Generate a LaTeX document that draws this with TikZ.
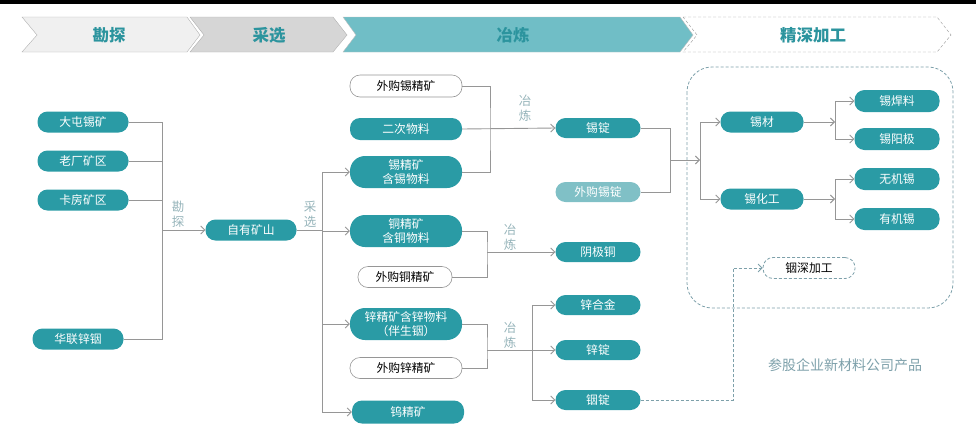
\documentclass[tikz,border=0pt]{standalone}
\usepackage{fontspec}
\setmainfont{Noto Sans CJK SC}
\usepackage{xcolor}
\usetikzlibrary{arrows.meta}
\definecolor{nodeteal}{RGB}{42,155,165}
\definecolor{paleteal}{RGB}{128,192,198}
\definecolor{bandteal}{RGB}{112,190,198}
\definecolor{titleteal}{RGB}{44,148,158}
\definecolor{labelgray}{RGB}{150,180,186}
\definecolor{linegray}{RGB}{150,150,150}
\definecolor{boxgray}{RGB}{125,160,170}

\begin{document}
\begin{tikzpicture}[x=1pt,y=-1pt,
  pill/.style={rectangle, rounded corners=10pt, fill=nodeteal, text=white,
    minimum width=91pt, minimum height=21pt, inner sep=0pt,
    font=\fontsize{11.8}{14.5}\selectfont, align=center},
  tallpill/.style={pill, rounded corners=15pt, minimum width=112pt, minimum height=32pt},
  widepill/.style={pill, minimum width=112pt, minimum height=22pt},
  openpill/.style={pill, fill=white, text=black, draw=linegray, line width=0.6pt},
  conn/.style={draw=linegray, line width=0.9pt},
  arr/.style={conn, -{Straight Barb[length=4pt,width=8pt]}},
  dotarr/.style={draw=boxgray, line width=0.8pt, densely dashed, -{Straight Barb[length=4pt,width=8pt]}},
  steplabel/.style={text=labelgray, font=\fontsize{12.5}{15}\selectfont, align=center},
  bandtext/.style={font=\fontsize{16.5}{18}\selectfont\bfseries, text=titleteal}]
\useasboundingbox (0,0) rectangle (976,432);
\fill[black] (0,0) rectangle (976,3.5);

% stage bands
\draw[draw=gray!60, fill=black!6] (22,17) -- (187,17) -- (200,35) -- (187,52) -- (22,52) -- (37,35) -- cycle;
\draw[draw=gray!60, fill=black!16] (190,17) -- (333,17) -- (347,35) -- (333,52) -- (190,52) -- (204,35) -- cycle;
\draw[draw=gray!50, fill=bandteal] (343,17) -- (680,17) -- (693,35) -- (680,52) -- (343,52) -- (356,35) -- cycle;
\draw[draw=gray!80, densely dashed, fill=white] (683,17) -- (937,17) -- (951,35) -- (937,52) -- (683,52) -- (697,35) -- cycle;
\node[bandtext] (kantan) at (109,35) {勘探};
\node[bandtext] (caixuan) at (269,35) {采选};
\node[bandtext] (yelian) at (513,35) {冶炼};
\node[bandtext] (jingshen) at (813,35) {精深加工};

% mines
\node[pill] (datun) at (83,122) {大屯锡矿};
\node[pill] (laochang) at (83,161) {老厂矿区};
\node[pill] (kafang) at (83,200) {卡房矿区};
\node[pill] (hualian) at (78,339) {华联锌铟};
\node[pill] (ziyou) at (251,230) {自有矿山};
\coordinate (kt) at (162,230);
\draw[conn] (datun.east) -| (kt);
\draw[conn] (hualian.east) -| (kt);
\draw[conn] (laochang.east) -- (laochang.east -| kt);
\draw[conn] (kafang.east) -- (kafang.east -| kt);
\draw[arr] (kt) -- (ziyou.west);
\node[steplabel] (lbkt) at (178,214) {勘\\探};

% concentrates
\node[openpill, minimum width=112pt, minimum height=22pt] (wgxjk) at (406,86) {外购锡精矿};
\node[widepill] (erci) at (406,129) {二次物料};
\node[tallpill] (xijk) at (406,172) {锡精矿\\含锡物料};
\node[tallpill] (tongjk) at (406,231) {铜精矿\\含铜物料};
\node[openpill, minimum width=94pt] (wgtjk) at (405,277) {外购铜精矿};
\node[tallpill] (xinjk) at (406,324) {锌精矿含锌物料\\（伴生铟）};
\node[openpill, minimum width=112pt] (wgzjk) at (406,368) {外购锌精矿};
\node[widepill, minimum height=23pt] (wujk) at (408,412) {钨精矿};
\coordinate (cx) at (322,230);
\draw[conn] (ziyou.east) -- (cx);
\draw[arr] (cx) |- (xijk.west);
\draw[arr] (cx) |- (tongjk.west);
\draw[arr] (cx) |- (xinjk.west);
\draw[arr] (cx) |- (wujk.west);
\node[steplabel] (lbcx) at (310,214) {采\\选};

% smelting
\node[pill, minimum width=85pt, minimum height=20pt] (xiding) at (598,128) {锡锭};
\node[pill, fill=paleteal, minimum width=85pt, minimum height=20pt] (wgxd) at (598,192) {外购锡锭};
\node[pill, minimum width=85pt, minimum height=20pt] (yjtong) at (598,252) {阴极铜};
\node[pill, minimum width=85pt, minimum height=20pt] (xhj) at (598,305) {锌合金};
\node[pill, minimum width=85pt, minimum height=20pt] (xinding) at (598,350) {锌锭};
\node[pill, minimum width=85pt, minimum height=20pt] (yinding) at (598,400) {铟锭};
\coordinate (s1) at (490,129);
\draw[conn] (wgxjk.east) -| (s1) |- (xijk.east);
\draw[arr] (erci.east) -- (xiding.west);
\node[steplabel] (lbs1) at (525,108) {冶\\炼};
\coordinate (c1) at (487,252);
\draw[conn] (tongjk.east) -| (c1) |- (wgtjk.east);
\draw[arr] (c1) -- (yjtong.west);
\node[steplabel] (lbc1) at (510,237) {冶\\炼};
\coordinate (z1) at (487,350);
\coordinate (z2) at (532,350);
\draw[conn] (xinjk.east) -| (z1) |- (wgzjk.east);
\draw[arr] (z1) -- (xinding.west);
\draw[arr] (z2) |- (xhj.west);
\draw[arr] (z2) |- (yinding.west);
\node[steplabel] (lbz1) at (510,335) {冶\\炼};

% deep processing
\draw[draw=boxgray, line width=0.8pt, densely dashed, rounded corners=25pt] (687,67) rectangle (953,308);
\node[pill, minimum width=83pt] (xicai) at (762,122) {锡材};
\node[pill, minimum width=83pt] (xihg) at (762,199) {锡化工};
\node[pill, minimum width=85pt, minimum height=22pt] (hanliao) at (897,101) {锡焊料};
\node[pill, minimum width=85pt, minimum height=22pt] (yangji) at (897,139) {锡阳极};
\node[pill, minimum width=85pt, minimum height=22pt] (wuji) at (897,179) {无机锡};
\node[pill, minimum width=85pt, minimum height=22pt] (youji) at (897,219) {有机锡};
\node[pill, fill=white, text=black, draw=boxgray, densely dashed, line width=0.8pt, minimum width=92pt] (yinsj) at (809,268) {铟深加工};
\coordinate (s2) at (670,160);
\coordinate (s3) at (700,160);
\draw[conn] (xiding.east) -| (s2) |- (wgxd.east);
\draw[arr] (s2) -- (s3);
\draw[arr] (s3) |- (xicai.west);
\draw[arr] (s3) |- (xihg.west);
\coordinate (t1) at (835,122);
\coordinate (t2) at (835,199);
\draw[arr] (xicai.east) -- (t1);
\draw[arr] (t1) |- (hanliao.west);
\draw[arr] (t1) |- (yangji.west);
\draw[arr] (xihg.east) -- (t2);
\draw[arr] (t2) |- (wuji.west);
\draw[arr] (t2) |- (youji.west);
\coordinate (d1) at (733,268);
\draw[dotarr] (yinding.east) -| (d1) -- (yinsj.west);
\node[text=boxgray, font=\fontsize{14}{16}\selectfont] (canggu) at (845,365) {参股企业新材料公司产品};
\end{tikzpicture}
\end{document}
